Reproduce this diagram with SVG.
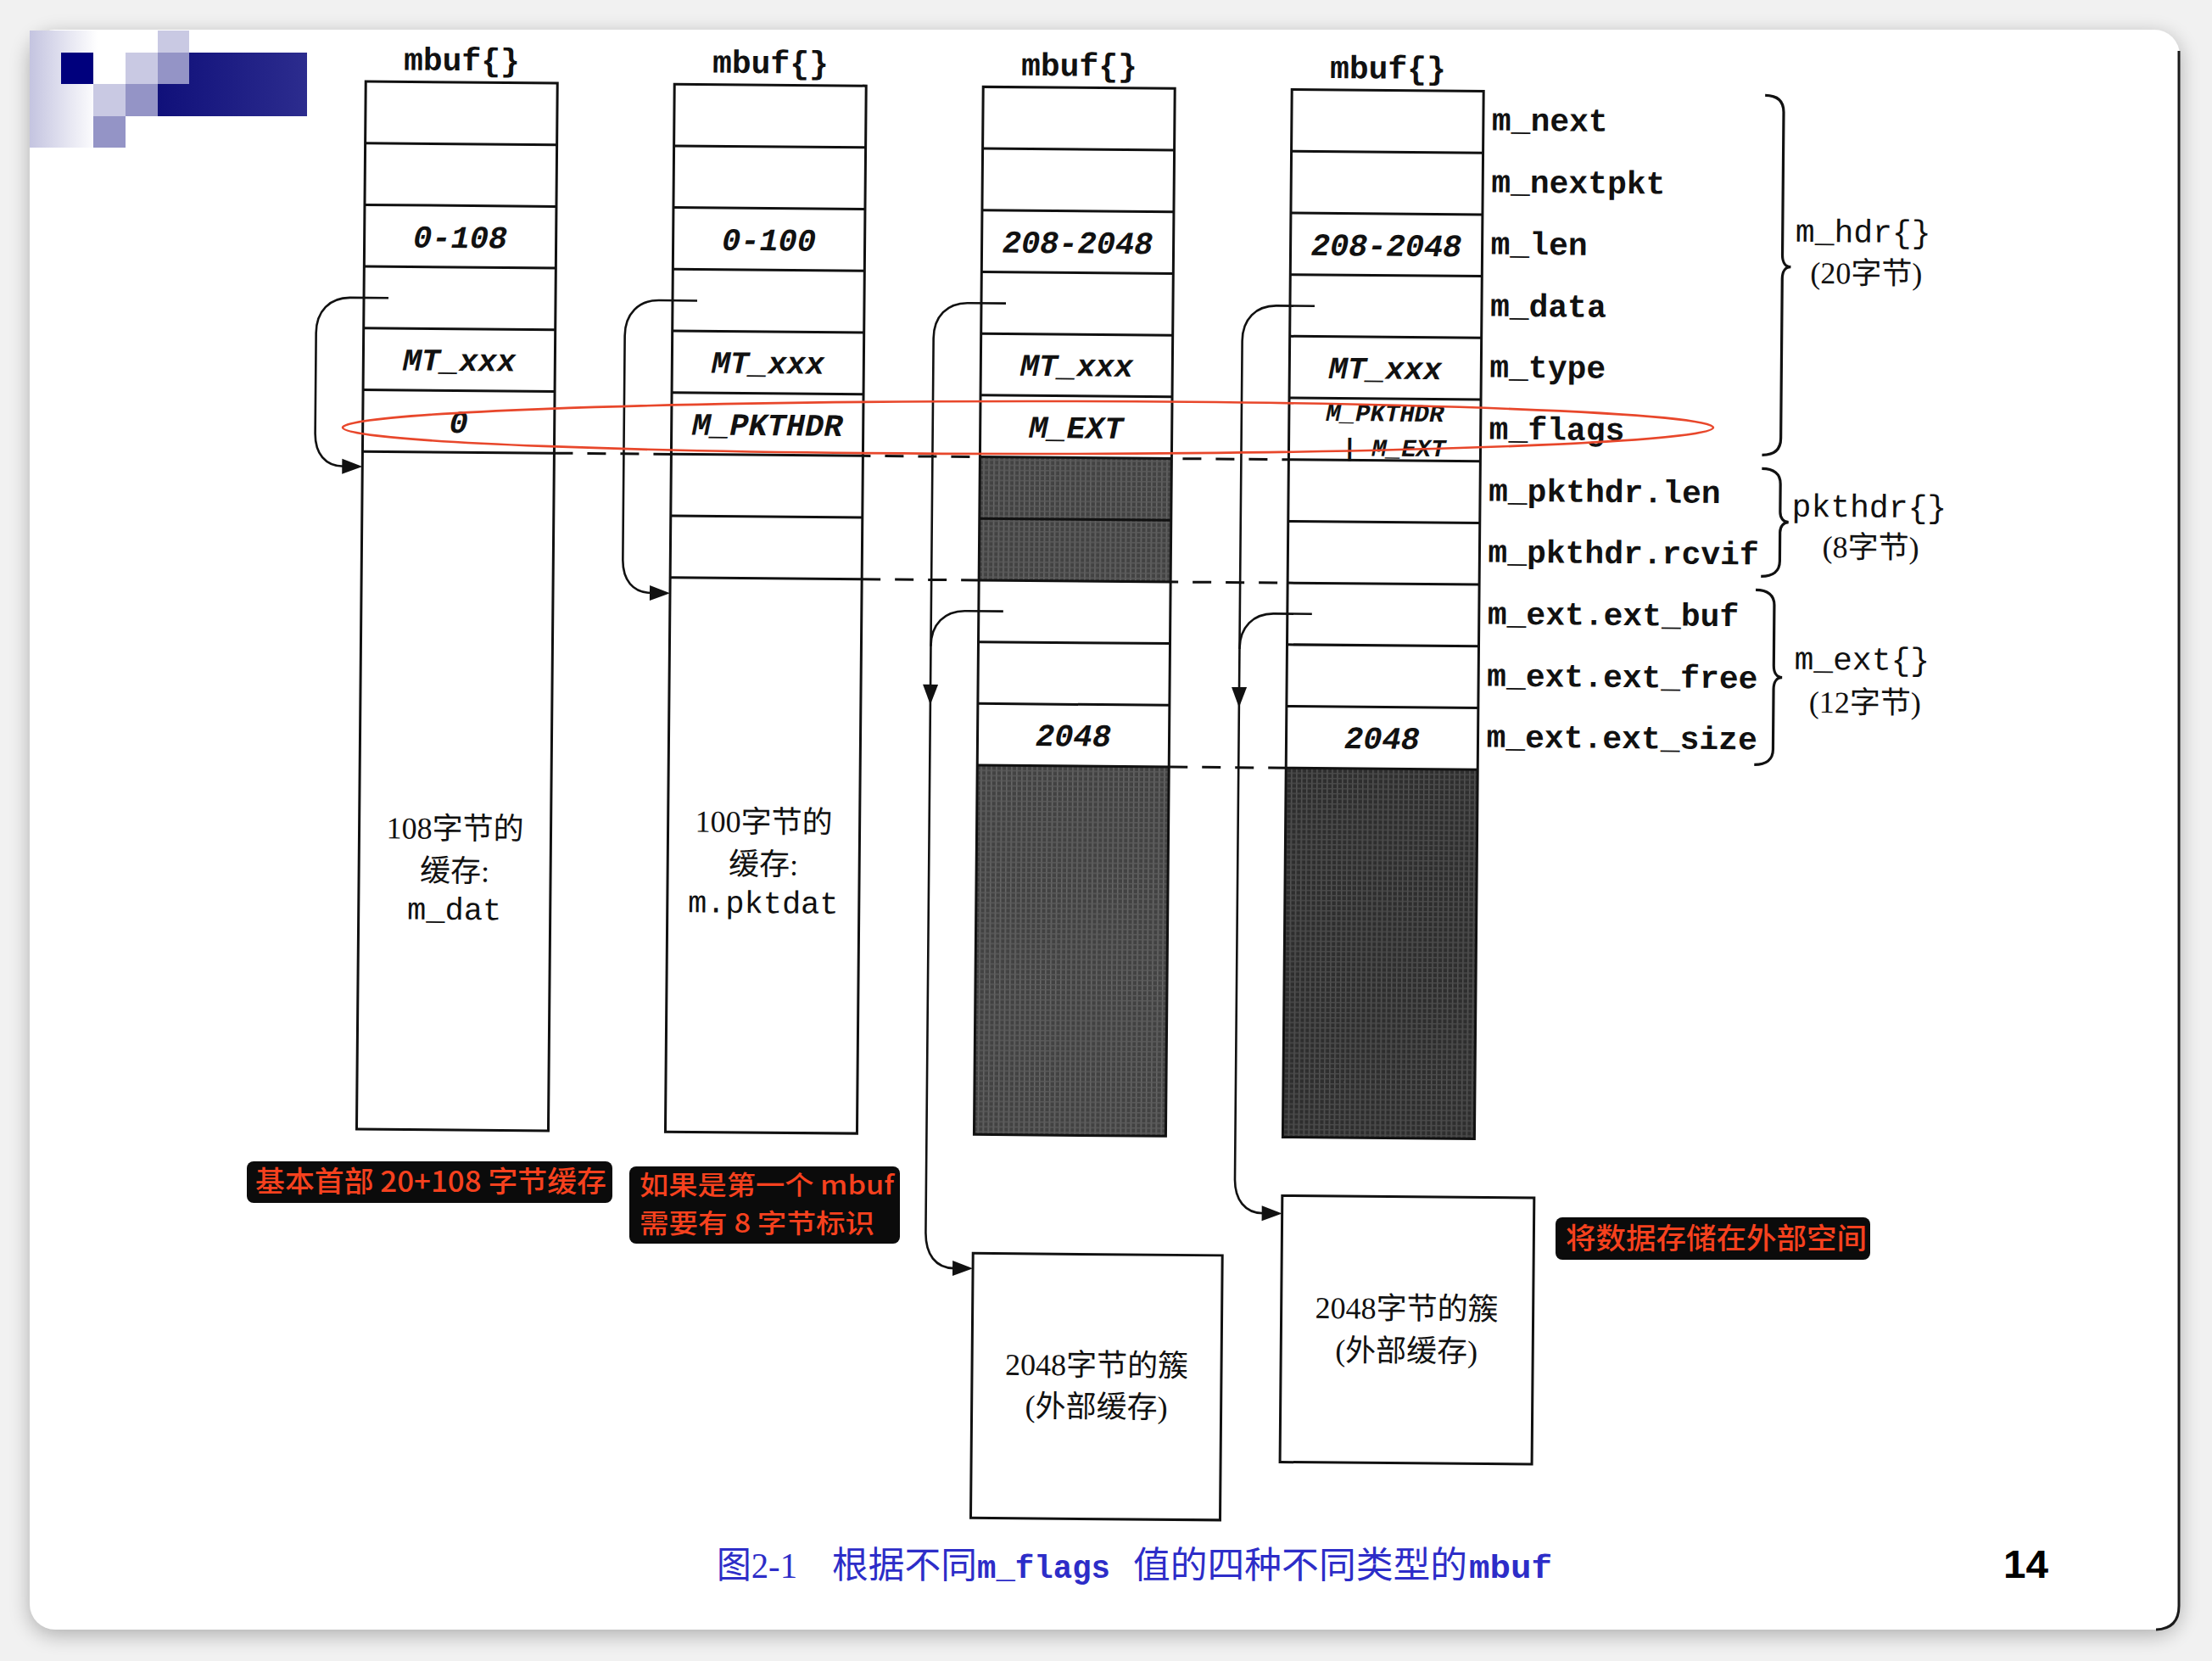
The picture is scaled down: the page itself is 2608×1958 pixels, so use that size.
<svg xmlns="http://www.w3.org/2000/svg" width="2608" height="1958" viewBox="0 0 2608 1958">
<defs>
<style>
.box{fill:#fff;stroke:none}
.frame{fill:none;stroke:#111;stroke-width:3}
.ln{stroke:#111;stroke-width:3;fill:none}
.dash{stroke:#111;stroke-width:3;stroke-dasharray:22 17;fill:none}
.conn{fill:none;stroke:#111;stroke-width:2.6}
.ah{fill:#111}
.brace{fill:none;stroke:#111;stroke-width:3.2}
.hdr{font-family:"Liberation Mono",monospace;font-weight:bold;font-size:38px;text-anchor:middle;fill:#111}
.fld{font-family:"Liberation Mono",monospace;font-weight:bold;font-size:38px;fill:#111}
.cell{font-family:"Liberation Mono",monospace;font-style:italic;font-weight:bold;font-size:37px;text-anchor:middle;fill:#111}
.sm{font-size:29px}
.ser{font-family:"Liberation Serif","Noto Sans CJK SC",serif;font-size:36px;text-anchor:middle;fill:#111}
.mono{font-family:"Liberation Mono",monospace;font-size:37px;text-anchor:middle;fill:#111}
.lbl{font-family:"Liberation Mono",monospace;font-size:38px;text-anchor:middle;fill:#111}
.note{font-family:"Noto Sans CJK SC",sans-serif;font-size:34px;font-weight:500;fill:#f6411e}
.n2{font-size:31px}
.nbg{fill:#0b0b0b}
.cap{font-family:"Liberation Serif","Noto Sans CJK SC",serif;font-size:43px;fill:#2d2dc8}
.capm{font-family:"Liberation Mono",monospace;font-weight:bold;font-size:38px;fill:#2d2dc8}
</style>
<pattern id="ht3" width="6" height="6" patternUnits="userSpaceOnUse">
<rect width="6" height="6" fill="#424242"/>
<rect width="1.5" height="6" fill="#686868"/>
<rect width="6" height="1.5" fill="#5a5a5a"/>
</pattern>
<pattern id="ht4" width="6" height="6" patternUnits="userSpaceOnUse">
<rect width="6" height="6" fill="#2e2e2e"/>
<rect width="1.5" height="6" fill="#545454"/>
<rect width="6" height="1.5" fill="#4a4a4a"/>
</pattern>
<linearGradient id="fade" x1="0" y1="0" x2="1" y2="0">
<stop offset="0" stop-color="#c4c4e0"/>
<stop offset="1" stop-color="#ffffff"/>
</linearGradient>
<linearGradient id="navy" x1="0" y1="0" x2="1" y2="0">
<stop offset="0" stop-color="#10107a"/>
<stop offset="1" stop-color="#2c2c8e"/>
</linearGradient>
<filter id="sh" x="-5%" y="-5%" width="110%" height="110%">
<feGaussianBlur stdDeviation="12"/>
</filter>
</defs>

<g id="page">
<rect width="2608" height="1958" fill="#f1f1f1"/>
<rect x="35" y="41" width="2535" height="1886" rx="30" fill="#000" opacity="0.28" filter="url(#sh)"/>
<rect x="35" y="35" width="2535" height="1886" rx="30" fill="#fff"/>
<path d="M2569,60 V1893 Q2569,1920 2542,1921" fill="none" stroke="#1a1a1a" stroke-width="3"/>
</g>

<g id="logo">
<rect x="35" y="36" width="80" height="138" fill="url(#fade)"/>
<rect x="72" y="62" width="38" height="37" fill="#00007d"/>
<rect x="148" y="62" width="38" height="37" fill="#c9c9e3"/>
<rect x="186" y="36" width="37" height="26" fill="#c9c9e3"/>
<rect x="186" y="62" width="37" height="37" fill="#9494c6"/>
<path d="M223,62 H362 V137 H186 V99 H223 Z" fill="url(#navy)"/>
<rect x="110" y="99" width="38" height="38" fill="#c9c9e3"/>
<rect x="148" y="99" width="38" height="38" fill="#9494c6"/>
<rect x="110" y="137" width="38" height="37" fill="#9494c6"/>
</g>

<g id="scan" transform="rotate(0.5 1000 700)">
<g id="guides">
<path class="dash" d="M652,537.2 H1518"/>
<path class="dash" d="M1016,682.6 H1518"/>
<path class="dash" d="M1380,900.7 H1518"/>
</g>

<g id="mbuf1">
<text class="hdr" x="539" y="87">mbuf{}</text>
<rect class="box" x="426" y="101" width="226" height="1235"/>
<path class="ln" d="M426,173.7H652M426,246.4H652M426,319.1H652M426,391.8H652M426,464.5H652M426,537.2H652"/>
<rect class="frame" x="426" y="101" width="226" height="1235"/>
<text class="cell" x="539" y="296">0-108</text>
<text class="cell" x="539" y="441">MT_xxx</text>
<text class="cell" x="539" y="514">0</text>
<text class="ser" x="539" y="993">108字节的</text>
<text class="ser" x="539" y="1043">缓存:</text>
<text class="mono" x="539" y="1088">m_dat</text>
</g>

<g id="mbuf2">
<text class="hdr" x="903" y="87">mbuf{}</text>
<rect class="box" x="790" y="101" width="226" height="1235"/>
<path class="ln" d="M790,173.7H1016M790,246.4H1016M790,319.1H1016M790,391.8H1016M790,464.5H1016M790,537.2H1016M790,609.9H1016M790,682.6H1016"/>
<rect class="frame" x="790" y="101" width="226" height="1235"/>
<text class="cell" x="903" y="296">0-100</text>
<text class="cell" x="903" y="441">MT_xxx</text>
<text class="cell" x="903" y="514">M_PKTHDR</text>
<text class="ser" x="903" y="982">100字节的</text>
<text class="ser" x="903" y="1032">缓存:</text>
<text class="mono" x="903" y="1077">m.pktdat</text>
</g>

<g id="mbuf3">
<text class="hdr" x="1267" y="87">mbuf{}</text>
<rect class="box" x="1154" y="101" width="226" height="1235"/>
<rect x="1154" y="537.2" width="226" height="145.4" fill="url(#ht3)"/>
<rect x="1154" y="900.7" width="226" height="435.3" fill="url(#ht3)"/>
<path class="ln" d="M1154,173.7H1380M1154,246.4H1380M1154,319.1H1380M1154,391.8H1380M1154,464.5H1380M1154,537.2H1380M1154,609.9H1380M1154,682.6H1380M1154,755.3H1380M1154,828H1380M1154,900.7H1380"/>
<rect class="frame" x="1154" y="101" width="226" height="1235"/>
<text class="cell" x="1267" y="296">208-2048</text>
<text class="cell" x="1267" y="441">MT_xxx</text>
<text class="cell" x="1267" y="514">M_EXT</text>
<text class="cell" x="1267" y="877">2048</text>
</g>

<g id="mbuf4">
<text class="hdr" x="1631" y="87">mbuf{}</text>
<rect class="box" x="1518" y="101" width="226" height="1235"/>
<rect x="1518" y="900.7" width="226" height="435.3" fill="url(#ht4)"/>
<path class="ln" d="M1518,173.7H1744M1518,246.4H1744M1518,319.1H1744M1518,391.8H1744M1518,464.5H1744M1518,537.2H1744M1518,609.9H1744M1518,682.6H1744M1518,755.3H1744M1518,828H1744M1518,900.7H1744"/>
<rect class="frame" x="1518" y="101" width="226" height="1235"/>
<text class="cell" x="1631" y="296">208-2048</text>
<text class="cell" x="1631" y="441">MT_xxx</text>
<text class="cell sm" x="1631" y="491">M_PKTHDR</text>
<text class="cell sm" x="1642" y="532">| M_EXT</text>
<text class="cell" x="1631" y="877">2048</text>
</g>

<g id="fields">
<text class="fld" x="1754" y="147">m_next</text>
<text class="fld" x="1754" y="220">m_nextpkt</text>
<text class="fld" x="1754" y="293">m_len</text>
<text class="fld" x="1754" y="366">m_data</text>
<text class="fld" x="1754" y="438">m_type</text>
<text class="fld" x="1754" y="511">m_flags</text>
<text class="fld" x="1754" y="584">m_pkthdr.len</text>
<text class="fld" x="1754" y="656">m_pkthdr.rcvif</text>
<text class="fld" x="1754" y="729">m_ext.ext_buf</text>
<text class="fld" x="1754" y="802">m_ext.ext_free</text>
<text class="fld" x="1754" y="874">m_ext.ext_size</text>
</g>

<g id="braces">
<path class="brace" d="M2076,103 C2090,103 2098,109 2098,123 V291 C2098,300 2102,305 2108,305 C2102,305 2098,310 2098,319 V507 C2098,521 2090,527 2076,527"/>
<path class="brace" d="M2076,543 C2090,543 2098,549 2098,561 V594 C2098,601 2102,606 2108,606 C2102,606 2098,611 2098,618 V652 C2098,664 2090,670 2076,670"/>
<path class="brace" d="M2070,686 C2084,686 2092,692 2092,704 V775 C2092,784 2096,789 2102,789 C2096,789 2092,794 2092,803 V874 C2092,886 2084,892 2070,892"/>
<text class="lbl" x="2193" y="275">m_hdr{}</text>
<text class="ser" x="2197" y="324">(20字节)</text>
<text class="lbl" x="2203" y="599">pkthdr{}</text>
<text class="ser" x="2205" y="647">(8字节)</text>
<text class="lbl" x="2196" y="779">m_ext{}</text>
<text class="ser" x="2200" y="830">(12字节)</text>
</g>

<g id="cluster1">
<rect x="1154" y="1476" width="294" height="312" fill="#fff" stroke="#111" stroke-width="3"/>
<text class="ser" x="1301" y="1619">2048字节的簇</text>
<text class="ser" x="1301" y="1668">(外部缓存)</text>
</g>

<g id="cluster2">
<rect x="1518" y="1405" width="297" height="314" fill="#fff" stroke="#111" stroke-width="3"/>
<text class="ser" x="1666" y="1549">2048字节的簇</text>
<text class="ser" x="1666" y="1599">(外部缓存)</text>
</g>

<g id="connectors">
<path class="conn" d="M455,356 H410 C386,356 370,372 370,398 V516 C370,540 382,555 404,555"/>
<polygon class="ah" points="426,555 402,546 402,564"/>
<path class="conn" d="M819,356 H774 C750,356 734,372 734,398 V662 C734,686 746,701 768,701"/>
<polygon class="ah" points="790,701 766,692 766,710"/>
<path class="conn" d="M1183,356 H1138 C1114,356 1098,372 1098,398 V1452 C1098,1478 1110,1494 1132,1494"/>
<path class="conn" d="M1183,719 H1138 C1114,719 1098,735 1098,761"/>
<polygon class="ah" points="1098,830 1089,806 1107,806"/>
<polygon class="ah" points="1154,1494 1130,1485 1130,1503"/>
<path class="conn" d="M1547,356 H1502 C1478,356 1462,372 1462,398 V1386 C1462,1410 1474,1426 1496,1426"/>
<path class="conn" d="M1547,719 H1502 C1478,719 1462,735 1462,761"/>
<polygon class="ah" points="1462,830 1453,806 1471,806"/>
<polygon class="ah" points="1518,1426 1494,1417 1494,1435"/>
</g>
</g>

<g id="highlight">
<ellipse cx="1212" cy="504" rx="808" ry="31" fill="none" stroke="#e8472b" stroke-width="2.6"/>
</g>

<g id="note1">
<rect class="nbg" x="291" y="1369" width="431" height="49" rx="8"/>
<text class="note" x="301" y="1405" textLength="414" lengthAdjust="spacingAndGlyphs">基本首部 20+108 字节缓存</text>
</g>
<g id="note2">
<rect class="nbg" x="742" y="1375" width="319" height="91" rx="8"/>
<text class="note n2" x="754" y="1408" textLength="300" lengthAdjust="spacingAndGlyphs">如果是第一个 mbuf</text>
<text class="note n2" x="754" y="1453" textLength="277" lengthAdjust="spacingAndGlyphs">需要有 8 字节标识</text>
</g>
<g id="note3">
<rect class="nbg" x="1834" y="1435" width="371" height="50" rx="8"/>
<text class="note" x="1846" y="1472" textLength="355" lengthAdjust="spacingAndGlyphs">将数据存储在外部空间</text>
</g>

<g id="caption">
<text class="cap" x="845" y="1860" textLength="95" lengthAdjust="spacingAndGlyphs">图2-1</text>
<text class="cap" x="981" y="1860" textLength="171" lengthAdjust="spacingAndGlyphs">根据不同</text>
<text class="capm" x="1152" y="1860" textLength="157" lengthAdjust="spacingAndGlyphs">m_flags</text>
<text class="cap" x="1336" y="1860" textLength="394" lengthAdjust="spacingAndGlyphs">值的四种不同类型的</text>
<text class="capm" x="1732" y="1860" textLength="98" lengthAdjust="spacingAndGlyphs">mbuf</text>
<text x="2362" y="1860" font-family="Liberation Sans, sans-serif" font-weight="bold" font-size="46" fill="#000" textLength="53" lengthAdjust="spacingAndGlyphs">14</text>
</g>
</svg>
